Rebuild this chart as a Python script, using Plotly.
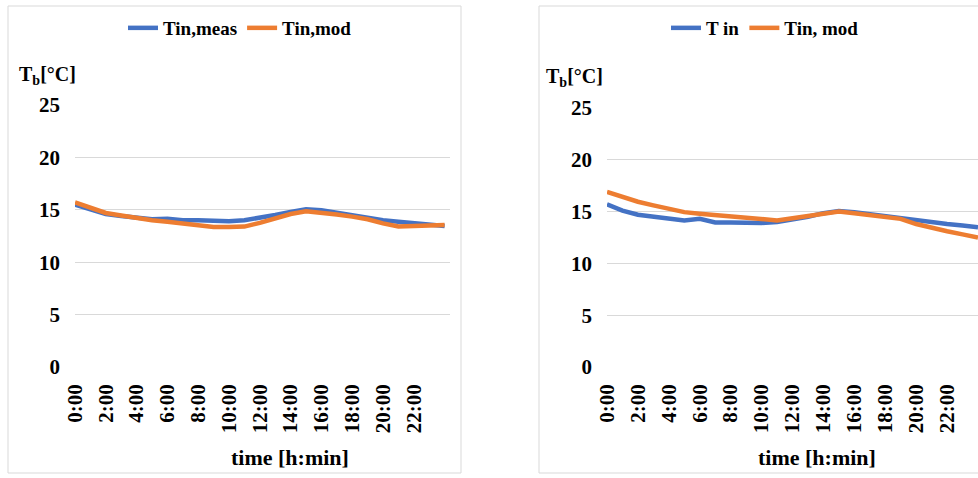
import plotly.graph_objects as go

# ---------------- data ----------------
hours = [0, 1, 2, 3, 4, 5, 6, 7, 8, 9, 10, 11, 12, 13, 14, 15, 16, 17, 18, 19, 20, 21, 22, 23, 24]

left_meas = [15.5, 15.0, 14.6, 14.4, 14.2, 14.1, 14.15, 14.0, 14.0, 13.9, 13.9, 14.0, 14.2, 14.5, 14.8,
             15.05, 14.95, 14.7, 14.5, 14.3, 14.0, 13.85, 13.7, 13.6, 13.45]
left_mod = [15.7, 15.2, 14.7, 14.45, 14.2, 14.0, 13.85, 13.7, 13.5, 13.35, 13.35, 13.4, 13.75, 14.2, 14.6,
            14.85, 14.75, 14.55, 14.35, 14.1, 13.7, 13.4, 13.45, 13.55, 13.55]

right_meas = [15.7, 15.1, 14.7, 14.5, 14.3, 14.15, 14.3, 13.95, 13.95, 13.9, 13.9, 14.0, 14.2, 14.5, 14.85,
              15.05, 14.95, 14.75, 14.55, 14.4, 14.1, 13.95, 13.8, 13.65, 13.5]
right_mod = [16.9, 16.4, 15.95, 15.6, 15.25, 14.95, 14.8, 14.65, 14.5, 14.35, 14.2, 14.15, 14.35, 14.6, 14.85,
             15.0, 14.85, 14.65, 14.45, 14.3, 13.8, 13.4, 13.1, 12.8, 12.5]

tick_hours = [0, 2, 4, 6, 8, 10, 12, 14, 16, 18, 20, 22]
tick_labels = ["0:00", "2:00", "4:00", "6:00", "8:00", "10:00", "12:00", "14:00", "16:00", "18:00", "20:00", "22:00"]
y_ticks = [0, 5, 10, 15, 20, 25]

left_names = ["Tin,meas", "Tin,mod"]
right_names = ["T in", "Tin, mod"]

BLUE = "#4472C4"
ORANGE = "#ED7D31"
FONT = "Times New Roman, Liberation Serif, DejaVu Serif, serif"
W, H = 978, 478

fig = go.Figure()

fig.add_trace(go.Scatter(x=hours, y=left_meas, mode="lines", name=left_names[0],
                         line=dict(color=BLUE, width=4.5), xaxis="x", yaxis="y", legend="legend"))
fig.add_trace(go.Scatter(x=hours, y=left_mod, mode="lines", name=left_names[1],
                         line=dict(color=ORANGE, width=4.5), xaxis="x", yaxis="y", legend="legend"))
fig.add_trace(go.Scatter(x=hours, y=right_meas, mode="lines", name=right_names[0],
                         line=dict(color=BLUE, width=4.5), xaxis="x2", yaxis="y2", legend="legend2"))
fig.add_trace(go.Scatter(x=hours, y=right_mod, mode="lines", name=right_names[1],
                         line=dict(color=ORANGE, width=4.5), xaxis="x2", yaxis="y2", legend="legend2"))

tickfont_x = dict(family=FONT, size=21, color="black", weight="bold")
tickfont_y = dict(family=FONT, size=21, color="black", weight="bold")

def xaxis(domain, rng):
    return dict(domain=domain, range=rng, tickmode="array", tickvals=tick_hours, ticktext=tick_labels,
                tickangle=-90, tickfont=tickfont_x, showgrid=False, zeroline=False, showline=False,
                ticks="", ticklabelstandoff=12, automargin=False, fixedrange=True)

def yaxis(domain, anchor):
    return dict(domain=domain, range=[0, 25], tickvals=y_ticks, tickfont=tickfont_y, showgrid=True,
                gridcolor="#d9d9d9", gridwidth=1, zeroline=False, showline=False, ticks="",
                ticklabelstandoff=14, anchor=anchor, automargin=False, fixedrange=True)

legend_font = dict(family=FONT, size=19, color="black", weight="bold")

fig.update_layout(
    template="none",
    width=W, height=H,
    margin=dict(l=0, r=0, t=0, b=0, pad=0, autoexpand=False),
    paper_bgcolor="white", plot_bgcolor="white",
    xaxis=dict(xaxis([75 / W, 450 / W], [0, 24.35]), anchor="y"),
    yaxis=yaxis([1 - 367 / H, 1 - 105 / H], "x"),
    xaxis2=dict(xaxis([607 / W, 1.0], [0, 24.0]), anchor="y2"),
    yaxis2=yaxis([1 - 367 / H, 1 - 108 / H], "x2"),
    legend=dict(orientation="h", x=240 / W, y=1 - 28 / H, xanchor="center", yanchor="middle",
                font=legend_font, bgcolor="rgba(0,0,0,0)", itemwidth=30, tracegroupgap=0),
    legend2=dict(orientation="h", x=765 / W, y=1 - 28 / H, xanchor="center", yanchor="middle",
                 font=legend_font, bgcolor="rgba(0,0,0,0)", itemwidth=30, tracegroupgap=0),
    showlegend=True,
)

# panel borders
fig.add_shape(type="rect", xref="paper", yref="paper", x0=8 / W, x1=461 / W, y0=1 - 473 / H, y1=1 - 6 / H,
              line=dict(color="#d9d9d9", width=1), fillcolor="rgba(0,0,0,0)", layer="below")
fig.add_shape(type="rect", xref="paper", yref="paper", x0=539 / W, x1=1.05, y0=1 - 473 / H, y1=1 - 6 / H,
              line=dict(color="#d9d9d9", width=1), fillcolor="rgba(0,0,0,0)", layer="below")

title_font = dict(family=FONT, size=22, color="black", weight="bold")
ytitle_font = dict(family=FONT, size=20, color="black", weight="bold")
ytitle = "T<sub>b</sub>[°C]"
fig.add_annotation(text=ytitle, xref="paper", yref="paper", x=17 / W, y=1 - 75 / H,
                   xanchor="left", yanchor="middle", showarrow=False, font=ytitle_font)
fig.add_annotation(text=ytitle, xref="paper", yref="paper", x=544 / W, y=1 - 77 / H,
                   xanchor="left", yanchor="middle", showarrow=False, font=ytitle_font)
fig.add_annotation(text="time [h:min]", xref="paper", yref="paper", x=290 / W, y=1 - 457 / H,
                   xanchor="center", yanchor="middle", showarrow=False, font=title_font)
fig.add_annotation(text="time [h:min]", xref="paper", yref="paper", x=817 / W, y=1 - 457 / H,
                   xanchor="center", yanchor="middle", showarrow=False, font=title_font)

fig.write_html("out.html", config={"displayModeBar": False})
